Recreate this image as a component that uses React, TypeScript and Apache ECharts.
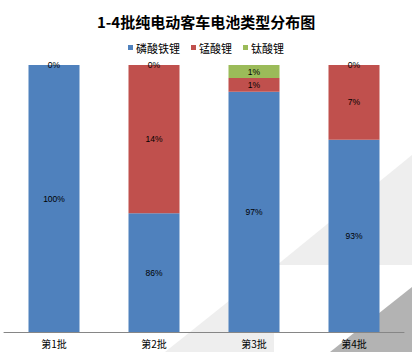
import React, { useEffect, useRef } from "react";
import * as echarts from "echarts";

const categories = ["第1批", "第2批", "第3批", "第4批"];
const seriesNames = ["磷酸铁锂", "锰酸锂", "钛酸锂"];
// bar segment shares (as drawn)
const lfpShare = [100, 44.5, 90, 72];
const lmoShare = [0, 55.5, 5.1, 28];
const ltoShare = [0, 0, 4.9, 0];
// data label texts
const lfpLabels = ["100%", "86%", "97%", "93%"];
const lmoLabels = ["0%", "14%", "1%", "7%"];
const ltoLabels = ["", "0%", "1%", "0%"];
const colors = ["#4F81BD", "#C0504D", "#9BBB59"];

export default function App() {
  const ref = useRef<HTMLDivElement>(null);
  useEffect(() => {
    if (!ref.current) return;
    const chart = echarts.init(ref.current, null, { renderer: "svg" });
    const dataSets = [lfpShare, lmoShare, ltoShare];
    const labelSets = [lfpLabels, lmoLabels, ltoLabels];
    chart.setOption({
      animation: false,
      backgroundColor: "#ffffff",
      textStyle: { fontFamily: "Liberation Sans, Noto Sans CJK SC, sans-serif" },
      title: {
        text: "1-4批纯电动客车电池类型分布图",
        left: "center",
        top: 9,
        textStyle: {
          fontSize: 15,
          fontWeight: "bold",
          color: "#000",
          fontFamily: "Noto Sans CJK SC, sans-serif",
        },
      },
      legend: {
        top: 37,
        left: "center",
        icon: "rect",
        itemWidth: 5,
        itemHeight: 5,
        itemGap: 11,
        textStyle: {
          fontSize: 11,
          color: "#000",
          padding: [0, 0, 0, -2],
          fontFamily: "Noto Sans CJK SC, sans-serif",
        },
        data: seriesNames,
      },
      graphic: [
        {
          type: "polygon",
          z: 0,
          silent: true,
          shape: { points: [[277, 265], [412, 155], [412, 265]] },
          style: { fill: "#eeeeee" },
        },
        {
          type: "polygon",
          z: 0,
          silent: true,
          shape: { points: [[165, 352], [274, 265], [274, 352]] },
          style: { fill: "#eeeeee" },
        },
        {
          type: "polygon",
          z: 0,
          silent: true,
          shape: { points: [[330, 352], [412, 287], [412, 352]] },
          style: { fill: "#b3b3b3" },
        },
      ],
      grid: { left: 4, right: 8, top: 65, bottom: 20, containLabel: false },
      xAxis: {
        type: "category",
        data: categories,
        axisLine: { lineStyle: { color: "#868686", width: 1 } },
        axisTick: { show: false },
        axisLabel: {
          fontSize: 10,
          color: "#000",
          margin: 6,
          fontFamily: "Noto Sans CJK SC, sans-serif",
        },
      },
      yAxis: { type: "value", min: 0, max: 100, show: false },
      series: seriesNames.map((name, i) => ({
        name,
        type: "bar",
        stack: "total",
        barWidth: 51,
        itemStyle: { color: colors[i] },
        data: dataSets[i],
        label: {
          show: true,
          position: "inside",
          color: "#000",
          fontSize: 8.5,
          fontFamily: "Liberation Sans, sans-serif",
          formatter: (p: any) => labelSets[i][p.dataIndex],
        },
      })),
    });
    return () => chart.dispose();
  }, []);
  return (
    <div
      ref={ref}
      style={{ position: "fixed", left: 0, top: 0, width: 412, height: 352 }}
    />
  );
}
